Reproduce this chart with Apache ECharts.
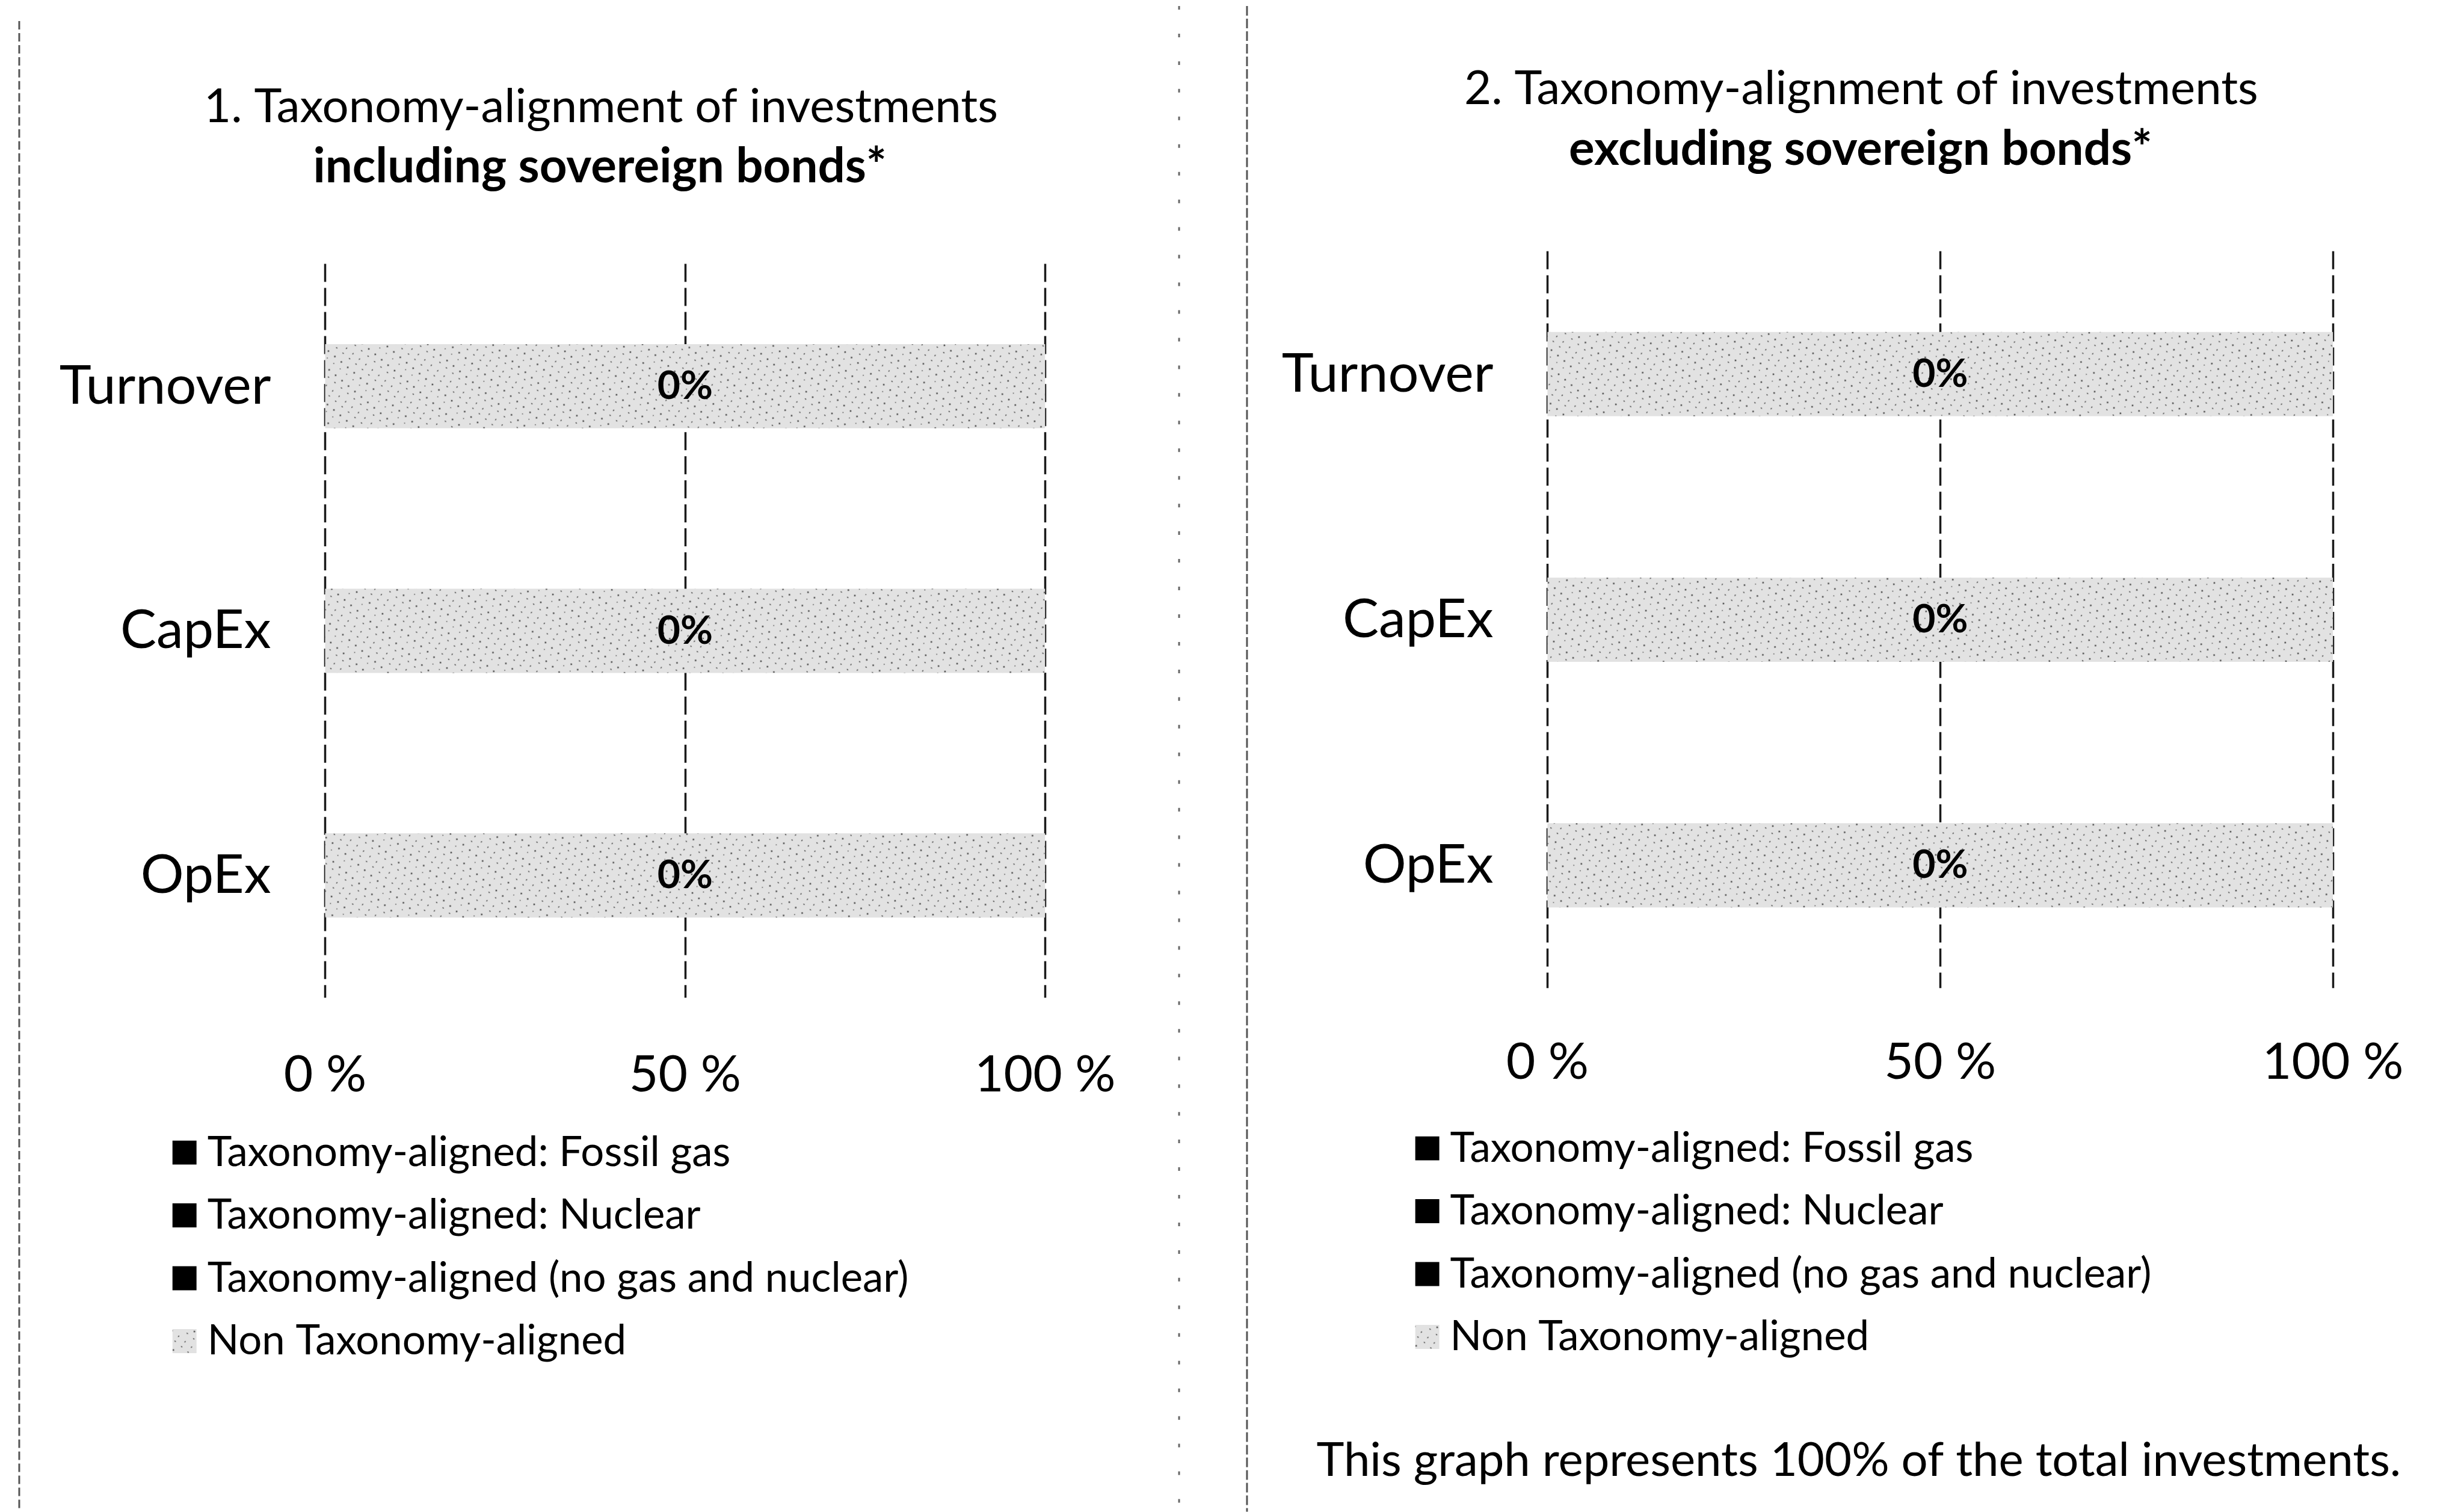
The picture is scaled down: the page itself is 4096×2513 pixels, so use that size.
<!DOCTYPE html>
<html>
<head>
<meta charset="utf-8">
<style>
  html, body { margin: 0; padding: 0; background: #ffffff; }
  #chart { width: 4096px; height: 2513px; }
</style>
<script src="https://cdn.jsdelivr.net/npm/echarts@6/dist/echarts.min.js"></script>
</head>
<body>
<div id="chart"></div>
<script>
// ---------------- DATA ----------------
const categories = ['Turnover', 'CapEx', 'OpEx'];
const tickLabels = ['0 %', '50 %', '100 %'];
const seriesNames = [
  'Taxonomy-aligned: Fossil gas',
  'Taxonomy-aligned: Nuclear',
  'Taxonomy-aligned (no gas and nuclear)',
  'Non Taxonomy-aligned'
];
// Chart 1: including sovereign bonds
const inclFossilGas = [0, 0, 0];
const inclNuclear = [0, 0, 0];
const inclAlignedOther = [0, 0, 0];
const inclNonAligned = [100, 100, 100];
// Chart 2: excluding sovereign bonds
const exclFossilGas = [0, 0, 0];
const exclNuclear = [0, 0, 0];
const exclAlignedOther = [0, 0, 0];
const exclNonAligned = [100, 100, 100];

const titleLine1 = ['1. Taxonomy-alignment of investments', '2. Taxonomy-alignment of investments'];
const titleLine2 = ['including sovereign bonds*', 'excluding sovereign bonds*'];
const footerText = 'This graph represents 100% of the total investments.';

// ---------------- STYLE / LAYOUT ----------------
const S = 0.999;
const s = v => v * S;
const FONT = 'Lato, "Open Sans", sans-serif';
const TXT = '#000000';

const patternFill = {
  color: '#e2e2e2',
  decal: {
    symbol: 'diamond',
    symbolSize: 0.75,
    color: 'rgba(25,25,25,0.7)',
    dashArrayX: [[5, 9], [0, 7, 5, 2], [3, 11]],
    dashArrayY: [5, 6, 3, 9],
    rotation: 0.7
  }
};

const charts = [
  { grid: { left: 541, top: 439, width: 1198, height: 1221 }, labelMargin: 87, data: [inclFossilGas, inclNuclear, inclAlignedOther, inclNonAligned] },
  { grid: { left: 2575, top: 418, width: 1307, height: 1226 }, labelMargin: 82, data: [exclFossilGas, exclNuclear, exclAlignedOther, exclNonAligned] }
];

const grids = [], xAxes = [], yAxes = [], series = [];
charts.forEach((c, gi) => {
  grids.push({ left: s(c.grid.left), top: s(c.grid.top), width: s(c.grid.width), height: s(c.grid.height), containLabel: false });
  xAxes.push({
    gridIndex: gi, type: 'value', min: 0, max: 100, interval: 50,
    axisLine: { show: false }, axisTick: { show: false },
    axisLabel: {
      margin: s(c.labelMargin), fontSize: s(84), fontFamily: FONT, color: TXT,
      formatter: v => tickLabels[Math.round(v / 50)]
    },
    splitLine: { show: true, lineStyle: { color: '#1a1a1a', width: s(3.5), type: [s(30), s(10)] } }
  });
  yAxes.push({
    gridIndex: gi, type: 'category', data: categories, inverse: true,
    axisLine: { show: false }, axisTick: { show: false },
    axisLabel: { margin: s(90), fontSize: s(90), fontFamily: FONT, color: TXT }
  });
  const aligned = categories.map((_, i) => c.data[0][i] + c.data[1][i] + c.data[2][i]);
  seriesNames.forEach((name, si) => {
    const isNon = si === 3;
    series.push({
      name, type: 'bar', xAxisIndex: gi, yAxisIndex: gi, stack: 'total' + gi,
      barWidth: s(140),
      data: c.data[si],
      itemStyle: isNon ? patternFill : { color: '#000000' },
      label: isNon ? {
        show: true, position: 'inside',
        formatter: p => aligned[p.dataIndex] + '%',
        fontSize: s(66), fontWeight: 'bold', fontFamily: FONT, color: '#000000'
      } : { show: false },
      emphasis: { disabled: true },
      silent: true
    });
  });
});

const legendCommon = {
  orient: 'vertical', data: seriesNames, icon: 'rect',
  itemWidth: s(40), itemHeight: s(40), itemGap: s(35.5),
  selectedMode: false, padding: 0,
  textStyle: { fontSize: s(69), lineHeight: s(69), fontFamily: FONT, color: TXT, padding: [0, 0, 0, s(13)] }
};

const titleStyle = (bold) => ({ fontSize: s(bold ? 80 : 78), fontFamily: FONT, color: TXT, fontWeight: bold ? 'bold' : 'normal' });

const option = {
  backgroundColor: '#ffffff',
  animation: false,
  title: [
    { text: titleLine1[0], left: s(1000), top: s(178), textAlign: 'center', textVerticalAlign: 'middle', padding: 0, textStyle: titleStyle(false) },
    { text: titleLine2[0], left: s(998), top: s(278), textAlign: 'center', textVerticalAlign: 'middle', padding: 0, textStyle: titleStyle(true) },
    { text: titleLine1[1], left: s(3097), top: s(148), textAlign: 'center', textVerticalAlign: 'middle', padding: 0, textStyle: titleStyle(false) },
    { text: titleLine2[1], left: s(3096), top: s(248), textAlign: 'center', textVerticalAlign: 'middle', padding: 0, textStyle: titleStyle(true) },
    { text: footerText, left: s(3093), top: s(2430), textAlign: 'center', textVerticalAlign: 'middle', padding: 0, textStyle: titleStyle(false) }
  ],
  legend: [
    Object.assign({}, legendCommon, { left: s(287), top: s(1883) }),
    Object.assign({}, legendCommon, { left: s(2355), top: s(1876) })
  ],
  grid: grids,
  xAxis: xAxes,
  yAxis: yAxes,
  series: series,
  graphic: [
    { type: 'line', silent: true, shape: { x1: s(32), y1: s(35), x2: s(32), y2: s(2515) }, style: { stroke: '#555', lineWidth: s(3), lineDash: [s(14), s(6)] } },
    { type: 'line', silent: true, shape: { x1: s(1962), y1: s(10), x2: s(1962), y2: s(2515) }, style: { stroke: '#666', lineWidth: s(3), lineDash: [s(6), s(40)] } },
    { type: 'line', silent: true, shape: { x1: s(2075), y1: s(10), x2: s(2075), y2: s(2515) }, style: { stroke: '#555', lineWidth: s(3), lineDash: [s(16), s(5)] } }
  ]
};

const chart = echarts.init(document.getElementById('chart'), null, { renderer: 'canvas', width: 4096, height: 2513 });
chart.setOption(option);
</script>
</body>
</html>
